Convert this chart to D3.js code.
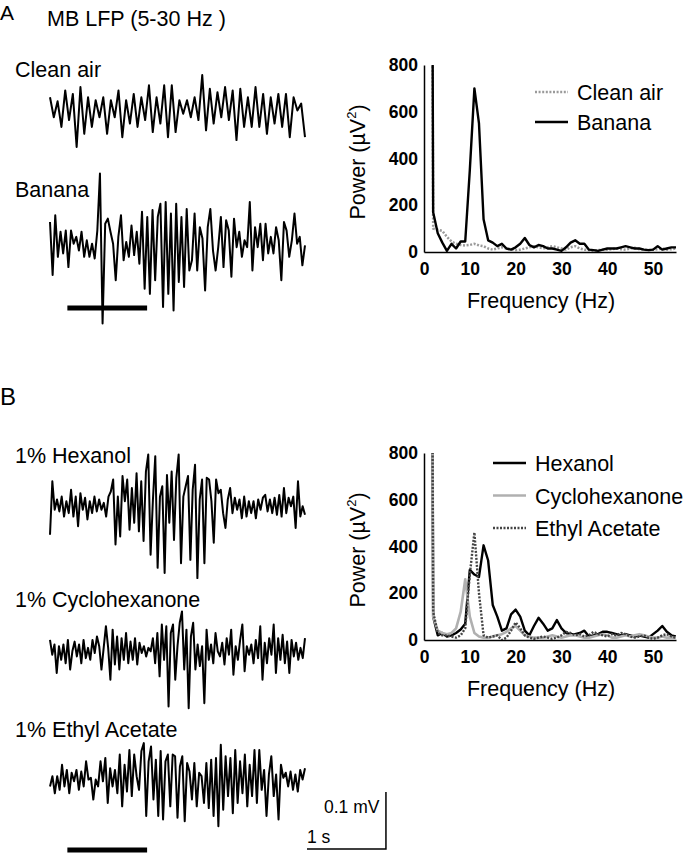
<!DOCTYPE html>
<html><head><meta charset="utf-8">
<script src="https://cdn.jsdelivr.net/npm/d3@7"></script>
<style>body{margin:0;background:#fff}svg{display:block}</style>
</head><body>
<script>
// ---------- DATA ----------
const traceDuration = 3.23;          // seconds shown per trace
const odorWindow = [0.22, 1.23];     // odor stimulus bar (s)
const scaleBarTime = 1;              // s
const scaleBarVolt = 100;            // µV (0.1 mV)

// LFP traces (µV, equally spaced in time)
const traceCleanAir = [17,-18,10,-35,29,-23,23,-70,35,-47,17,-35,12,-18,17,-47,12,-18,29,-53,12,-29,23,-35,17,-23,38,-44,17,-29,38,-53,38,-44,12,-12,12,-18,17,-23,56,-41,32,-29,26,-18,35,-23,29,-58,32,-35,17,-35,35,-35,23,-47,17,-29,23,-35,23,-53,17,-6,6,-53];
const traceBanana = [35,-58,47,-26,18,-20,20,-44,20,-3,9,-15,18,-26,3,-26,-3,-29,20,120,-143,32,41,18,-3,-67,9,47,-32,0,-26,29,-23,18,-38,53,-82,44,-91,56,-67,44,67,-114,70,-91,50,-120,67,-70,44,-79,58,-50,-32,50,-50,26,6,-85,26,58,-15,-50,-9,44,-44,38,20,-61,41,-9,18,-26,3,-9,70,-50,26,-9,32,-32,32,-20,9,-20,26,3,-67,35,20,-26,3,50,-3,9,-41,-6];
const traceHexanol = [-47,47,-3,15,-6,20,-15,12,-9,32,-15,20,-32,26,-3,18,-20,12,-9,20,-6,15,-3,9,-15,20,29,50,-64,20,-50,56,12,50,-38,35,-26,61,-41,47,-58,64,94,-82,15,91,-105,20,38,-114,58,-26,64,-56,53,94,-97,20,38,56,-91,32,76,-123,15,50,-97,53,50,12,-61,50,26,32,-9,-35,15,35,-9,18,-3,15,-18,20,-15,12,-9,12,-18,15,-3,18,23,-6,15,-9,18,-12,23,-15,35,-9,18,3,20,-35,47,-15,3,-12];
const traceCyclohexanone = [23,-3,15,-35,12,-12,15,-18,23,-29,3,20,-6,15,-18,23,-9,9,-12,23,0,29,12,-29,9,47,9,-47,41,-20,29,-29,26,-12,35,-18,20,-12,26,-20,18,0,12,-6,9,3,26,-18,35,-41,50,-12,47,-94,35,50,-47,12,53,73,-29,41,-97,29,53,-29,15,-23,12,-88,41,-12,15,-18,35,3,-6,18,-20,26,-3,41,-38,12,-12,23,50,-32,12,-3,15,-18,23,-9,47,-47,18,-18,26,-3,50,-35,26,-12,32,-18,20,-35,23,-6,18,-12,9,-9,26];
const traceEthylAcetate = [-6,12,-18,12,-12,32,-6,23,-18,18,3,23,-12,20,-6,38,6,9,-29,6,-6,38,3,44,-35,26,-6,23,-18,50,-41,32,-15,58,-23,50,12,-12,56,70,-58,38,64,-29,41,-58,56,-64,38,50,-41,50,47,-61,29,47,-67,35,20,-29,35,-41,18,12,-35,35,-44,41,-58,44,-76,67,-47,47,-23,44,-53,58,-35,38,-18,50,-41,32,-23,58,-35,58,-12,23,-58,15,47,-23,15,-64,32,9,18,-6,20,-12,15,-15,23,6,26];

// Power spectra (µV²) vs frequency (Hz)
const psdFreq = [1,2,3,4,5,6,7,8,9,10,11,12,13,14,15,16,17,18,19,20,21,22,23,24,25,26,27,28,29,30,31,32,33,34,35,36,37,38,39,40,41,42,43,44,45,46,47,48,49,50,51,52,53,54,55];
const psdCleanAir = [6000,100,95,90,65,45,35,30,28,30,35,28,25,15,10,15,20,15,12,8,10,15,20,25,20,15,20,25,20,15,10,20,25,15,10,8,5,8,10,10,12,15,12,10,15,18,12,10,8,10,12,15,10,12,15];
const psdBanana = [6000,170,80,40,5,35,15,45,45,350,700,550,140,50,40,25,35,15,10,20,35,60,30,20,30,25,15,15,10,5,20,40,50,35,35,10,8,5,10,15,15,15,20,25,20,15,15,10,8,10,25,10,15,20,20];
const psdHexanol = [6000,100,20,30,15,20,30,45,70,300,280,270,405,340,150,100,40,50,110,130,100,40,20,60,95,70,40,50,85,50,30,25,25,30,40,15,20,25,35,35,30,25,20,25,20,15,20,15,10,25,40,60,35,20,15];
const psdCyclohexanone = [6000,100,40,30,25,30,50,120,260,100,30,15,10,10,15,20,25,35,50,60,40,20,15,10,10,10,15,20,15,10,15,20,20,15,10,10,15,20,25,20,10,10,15,20,15,20,25,20,15,10,10,15,10,10,10];
const psdEthylAcetate = [6000,120,30,20,20,15,10,20,50,280,460,200,20,10,15,20,0,10,40,75,50,20,10,5,10,15,10,5,10,20,35,30,20,25,15,20,35,25,20,15,25,20,30,25,15,10,15,20,10,5,10,20,25,15,10];

const powerTicks = [0,200,400,600,800];
const freqTicks = [0,10,20,30,40,50];

// ---------- DRAWING ----------
const W = 684, H = 853;
const LABEL_FONT = "'Liberation Sans', Arial, sans-serif";
const TICK_FONT = "'Liberation Sans', Arial, sans-serif";
const svg = d3.select("body").append("svg").attr("width", W).attr("height", H)
  .style("background", "#fff");

function label(x, y, t, size, anchor) {
  return svg.append("text").attr("x", x).attr("y", y).text(t)
    .attr("font-family", LABEL_FONT).attr("font-size", size || 21.5)
    .attr("text-anchor", anchor || "start").attr("fill", "#000");
}

// Panel letters & titles
label(0, 20, "A", 21);
label(47, 26, "MB LFP (5-30 Hz )", 21.5);
label(0, 405, "B", 24);

// Traces
const xT = d3.scaleLinear().domain([0, traceDuration]).range([50, 305]);
const yT = d3.scaleLinear().domain([-100, 100]).range([57, -57]);

const traces = [
  {name: "Clean air", data: traceCleanAir, base: 107, ly: 77},
  {name: "Banana", data: traceBanana, base: 242, ly: 197},
  {name: "1% Hexanol", data: traceHexanol, base: 508, ly: 463},
  {name: "1% Cyclohexanone", data: traceCyclohexanone, base: 653, ly: 607},
  {name: "1% Ethyl Acetate", data: traceEthylAcetate, base: 783, ly: 737}
];
traces.forEach(tr => {
  label(15, tr.ly, tr.name);
  const n = tr.data.length;
  const line = d3.line()
    .x((d, i) => xT(i * traceDuration / (n - 1)))
    .y(d => tr.base + yT(d));
  svg.append("path").datum(tr.data).attr("d", line)
    .attr("fill", "none").attr("stroke", "#000").attr("stroke-width", 2)
    .attr("stroke-linejoin", "round");
});

// Odor bars
[308, 850].forEach(y => {
  svg.append("rect").attr("x", xT(odorWindow[0])).attr("y", y - 2.5)
    .attr("width", xT(odorWindow[1]) - xT(odorWindow[0])).attr("height", 5)
    .attr("fill", "#000");
});

// Scale bar
const sbX0 = 307, sbY = 849;
const sbLen = xT(scaleBarTime) - xT(0);
const sbH = yT(0) - yT(scaleBarVolt);
svg.append("path")
  .attr("d", `M${sbX0},${sbY}H${sbX0 + sbLen}V${sbY - sbH}`)
  .attr("fill", "none").attr("stroke", "#000").attr("stroke-width", 1.5);
label(324, 813, "0.1 mV", 17.5);
label(307, 843, "1 s", 17.5);

// PSD panels
const xP = d3.scaleLinear().domain([0, 55]).range([424, 676]);
function psdPanel(y0, series, legendX, legendY, legendGap, id) {
  const yP = d3.scaleLinear().domain([0, 800]).range([y0, y0 - 187]);
  const g = svg.append("g");
  g.append("clipPath").attr("id", id).append("rect")
    .attr("x", xP(0)).attr("y", yP(800))
    .attr("width", xP(55) - xP(0)).attr("height", yP(0) - yP(800) + 1);
  const line = d3.line().x((d, i) => xP(psdFreq[i])).y(d => yP(d));
  series.forEach(s => {
    g.append("path").datum(s.data).attr("d", line)
      .attr("clip-path", `url(#${id})`)
      .attr("fill", "none").attr("stroke", s.color).attr("stroke-width", s.width)
      .attr("stroke-dasharray", s.dash || null).attr("stroke-linejoin", "round");
  });
  const ya = g.append("g").attr("transform", `translate(${xP(0)},0)`)
    .call(d3.axisLeft(yP).tickValues(powerTicks).tickSize(0).tickSizeOuter(0).tickPadding(6));
  const xa = g.append("g").attr("transform", `translate(0,${y0})`)
    .call(d3.axisBottom(xP).tickValues(freqTicks).tickSize(0).tickSizeOuter(0).tickPadding(11));
  [ya, xa].forEach(a => {
    a.select(".domain").attr("stroke", "#000").attr("stroke-width", 1.5);
    a.selectAll("text").attr("font-family", TICK_FONT).attr("font-size", 17.5)
      .attr("font-weight", "bold").attr("fill", "#000");
  });
  // axis titles
  const yl = g.append("text").attr("transform", `translate(365,${y0 - 90}) rotate(-90)`)
    .attr("text-anchor", "middle").attr("font-family", LABEL_FONT).attr("font-size", 21.5);
  yl.append("tspan").text("Power (µV");
  yl.append("tspan").text("2").attr("font-size", 13).attr("dy", -9);
  yl.append("tspan").text(")").attr("dy", 9);
  g.append("text").attr("x", 541).attr("y", y0 + 56).attr("text-anchor", "middle")
    .attr("font-family", LABEL_FONT).attr("font-size", 21.5).text("Frequency (Hz)");
  // legend
  series.forEach((s, i) => {
    const ly = legendY + i * legendGap;
    g.append("line").attr("x1", legendX).attr("x2", legendX + 33).attr("y1", ly).attr("y2", ly)
      .attr("stroke", s.color).attr("stroke-width", s.width).attr("stroke-dasharray", s.dash || null);
    g.append("text").attr("x", legendX + 42).attr("y", ly + 8).text(s.name)
      .attr("font-family", LABEL_FONT).attr("font-size", 21.5);
  });
}

psdPanel(252, [
  {name: "Clean air", data: psdCleanAir, color: "#9a9a9a", width: 2.5, dash: "2,1.6"},
  {name: "Banana", data: psdBanana, color: "#000", width: 2.4}
], 535, 92, 30, "clipA");

psdPanel(640, [
  {name: "Hexanol", data: psdHexanol, color: "#000", width: 2.4},
  {name: "Cyclohexanone", data: psdCyclohexanone, color: "#b0b0b0", width: 2.6},
  {name: "Ethyl Acetate", data: psdEthylAcetate, color: "#444", width: 2.4, dash: "2,1.5"}
], 493, 463, 32.5, "clipB");
</script>
</body></html>
